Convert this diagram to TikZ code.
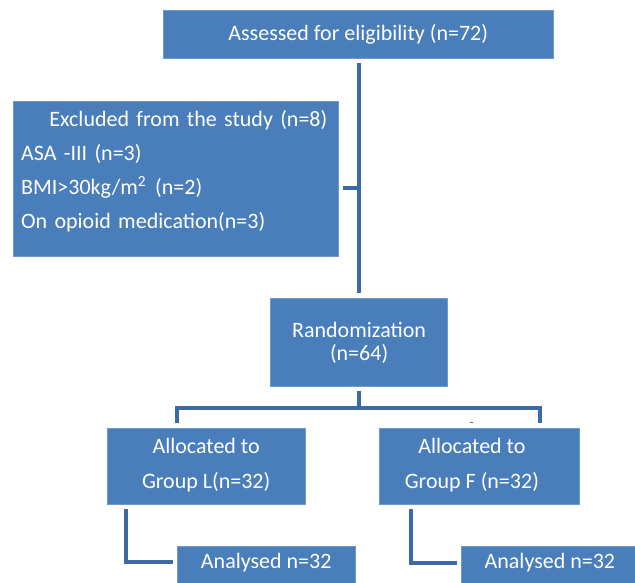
\documentclass[tikz,border=0pt]{standalone}
\usepackage{fontspec}
\setmainfont{Carlito}
\definecolor{boxfill}{HTML}{4A7EBB}
\definecolor{boxedge}{HTML}{7199CD}
\definecolor{linkcol}{HTML}{3B6AA6}
\begin{document}
\begin{tikzpicture}[x=1pt,y=-1pt,
  box/.style={draw=boxedge, line width=0.8pt, fill=boxfill, text=white, inner xsep=0pt, inner ysep=0pt,
    font=\fontsize{22}{26}\selectfont},
  link/.style={draw=linkcol, line width=4pt}]
\useasboundingbox (0,0) rectangle (635,583);
\begin{scope}
\clip (0,0) rectangle (635,583);
% boxes
\node[box, minimum width=389.7pt, minimum height=48.4pt, text height=16pt, text depth=3pt]
  (assess) at (358.2,34.5) {Assessed for eligibility (n=72)};
\node[box, anchor=north west, minimum width=324.4pt, minimum height=154.7pt, inner xsep=7.4pt,
  text width=309.6pt, align=left, font=\fontsize{22}{34}\selectfont]
  (excl) at (13.3,101) {\rule{0pt}{17pt}\hspace*{28.3pt}Excluded from the study (n=8)\\
  ASA -III (n=3)\\
  BMI>30kg/m\textsuperscript{2}\hspace{9pt}(n=2)\\
  On opioid medication(n=3)\rule[-19.7pt]{0pt}{19.7pt}};
\node[box, anchor=north west, minimum width=177.4pt, minimum height=87.4pt, align=center,
  font=\fontsize{22}{23.3}\selectfont]
  (rand) at (270,298.3) {\rule{0pt}{18.7pt}Randomization\\(n=64)\rule[-6pt]{0pt}{6pt}};
\node[box, anchor=north west, minimum width=198.5pt, minimum height=76.3pt, align=center,
  font=\fontsize{22}{35.6}\selectfont]
  (allocL) at (106.5,427.7) {\rule{0pt}{16.3pt}Allocated to\\Group L(n=32)\rule[-7pt]{0pt}{7pt}};
\node[box, anchor=north west, minimum width=200pt, minimum height=76.3pt, align=center,
  font=\fontsize{22}{35.6}\selectfont]
  (allocF) at (379,427.7) {\rule{0pt}{16.3pt}\hspace*{-15pt}Allocated to\\\hspace*{-15pt}Group F (n=32)\rule[-7pt]{0pt}{7pt}};
\node[box, anchor=north west, minimum width=178.3pt, minimum height=60pt, text height=16pt, text depth=30.8pt]
  (anaL) at (176.7,545.7) {Analysed n=32};
\node[box, anchor=north west, minimum width=177pt, minimum height=60pt, text height=16pt, text depth=30.8pt]
  (anaF) at (461,545.7) {Analysed n=32};
% junction points
\coordinate (j1) at (359,188);
\coordinate (bc) at (359,408);
\coordinate (bl) at (177,408);
\coordinate (br) at (540,408);
\coordinate (el) at (126,562);
\coordinate (er) at (411,562.5);
% connectors
\draw[link, shorten <=4pt, shorten >=5pt] (assess.south -| j1) -- (rand.north -| j1);
\draw[link, shorten <=4pt] (excl.east |- j1) -- ([xshift=2pt]j1);
\draw[link, shorten <=4pt] (rand.south -| bc) -- ([yshift=2pt]bc);
\draw[link, shorten <=5pt, shorten >=5pt] (bl |- allocL.north) -- (bl) -- (br) -- (br |- allocF.north);
\draw[link, shorten <=4pt, shorten >=4pt] (el |- allocL.south) -- (el) -- (anaL.west |- el);
\draw[link, shorten <=4pt, shorten >=4pt] (er |- allocF.south) -- (er) -- (anaF.west |- er);
\coordinate (m1) at (470.2,422.3);
\coordinate (m2) at (473.2,422.3);
\draw[draw=linkcol, line width=1.5pt] (m1) -- (m2);
\end{scope}
\end{tikzpicture}
\end{document}
